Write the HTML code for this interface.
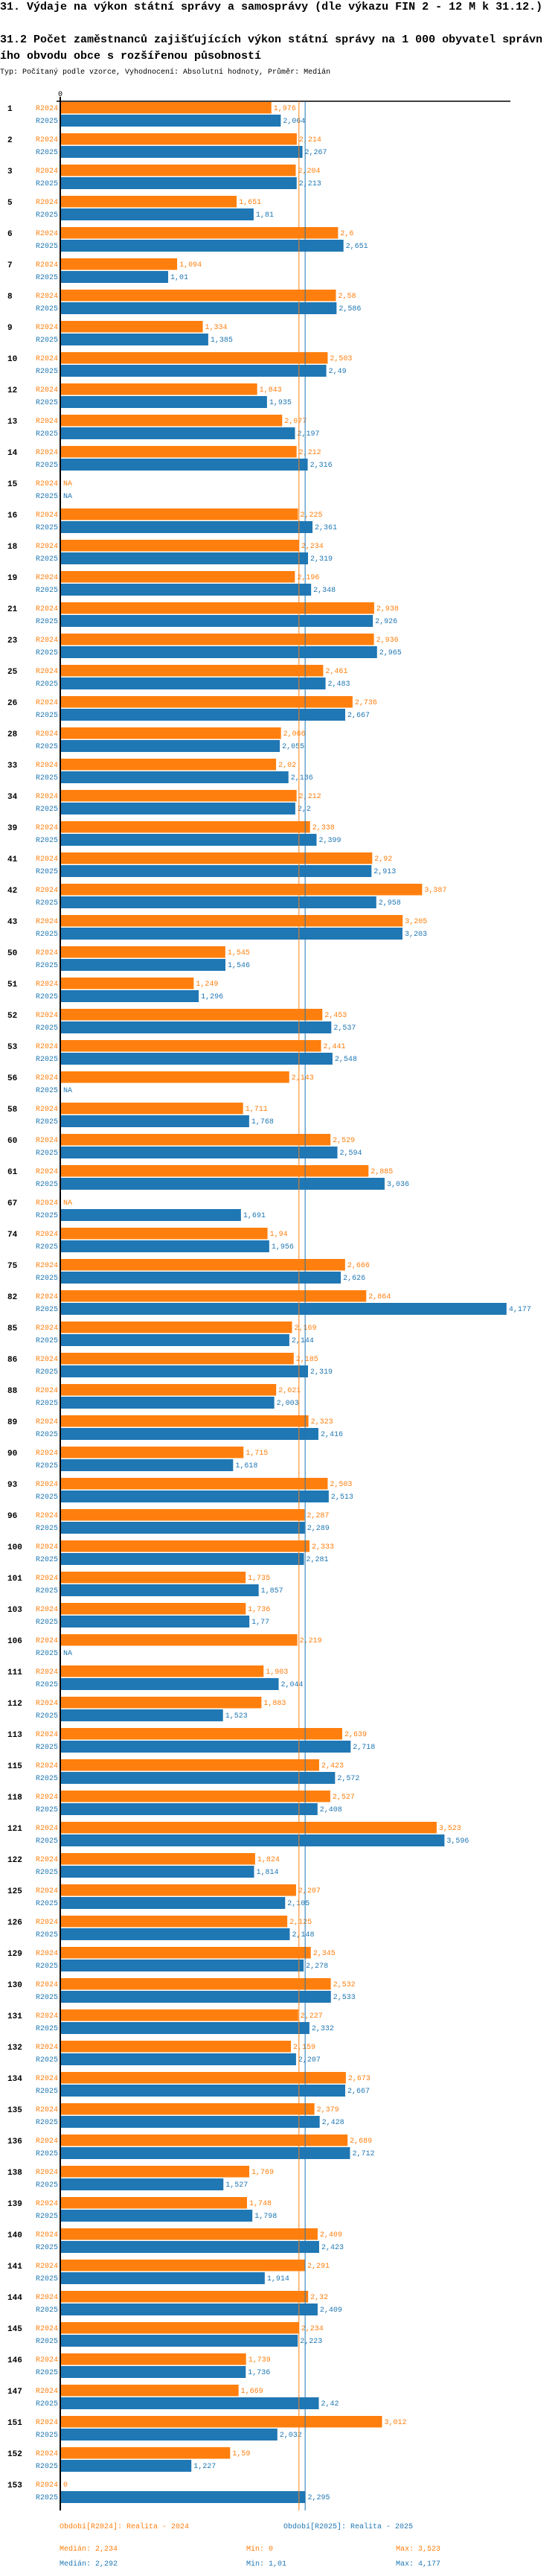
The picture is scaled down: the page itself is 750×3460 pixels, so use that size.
<!DOCTYPE html>
<html><head><meta charset="utf-8"><style>
body{margin:0;background:#fff;width:750px;height:3460px;overflow:hidden}
svg{display:block;font-family:"Liberation Mono",monospace}
</style></head><body>
<svg id="chart" width="750" height="3460" xmlns="http://www.w3.org/2000/svg">
<text x="0" y="13" font-size="15" font-weight="bold" fill="#000">31. Výdaje na výkon státní správy a samosprávy (dle výkazu FIN 2 - 12 M k 31.12.)</text>
<text x="0" y="57" font-size="15" font-weight="bold" fill="#000">31.2 Počet zaměstnanců zajišťujících výkon státní správy na 1 000 obyvatel správn</text>
<text x="0" y="79" font-size="15" font-weight="bold" fill="#000">ího obvodu obce s rozšířenou působností</text>
<text x="0" y="99" font-size="10" fill="#000">Typ: Počítaný podle vzorce, Vyhodnocení: Absolutní hodnoty, Průměr: Medián</text>
<text x="78" y="129" font-size="10" fill="#000">0</text>
<g id="bars"></g>
<line x1="76" y1="136" x2="686" y2="136" stroke="#000" stroke-width="1.5"/>
<line x1="81" y1="130" x2="81" y2="3372" stroke="#000" stroke-width="2"/>
<g id="medians"></g>
<g font-size="10">
<text x="80" y="3396" fill="#ff7f0e">Období[R2024]: Realita - 2024</text>
<text x="381" y="3396" fill="#1f77b4">Období[R2025]: Realita - 2025</text>
<text x="80" y="3426" fill="#ff7f0e">Medián: 2,234</text>
<text x="331" y="3426" fill="#ff7f0e">Min: 0</text>
<text x="532" y="3426" fill="#ff7f0e">Max: 3,523</text>
<text x="80" y="3446" fill="#1f77b4">Medián: 2,292</text>
<text x="331" y="3446" fill="#1f77b4">Min: 1,01</text>
<text x="532" y="3446" fill="#1f77b4">Max: 4,177</text>
</g>
</svg>
<script>
const categories=[1,2,3,5,6,7,8,9,10,12,13,14,15,16,18,19,21,23,25,26,28,33,34,39,41,42,43,50,51,52,53,56,58,60,61,67,74,75,82,85,86,88,89,90,93,96,100,101,103,106,111,112,113,115,118,121,122,125,126,129,130,131,132,134,135,136,138,139,140,141,144,145,146,147,151,152,153];
const values2024=[1.976,2.214,2.204,1.651,2.6,1.094,2.58,1.334,2.503,1.843,2.077,2.212,null,2.225,2.234,2.196,2.938,2.936,2.461,2.736,2.066,2.02,2.212,2.338,2.92,3.387,3.205,1.545,1.249,2.453,2.441,2.143,1.711,2.529,2.885,null,1.94,2.666,2.864,2.169,2.185,2.021,2.323,1.715,2.503,2.287,2.333,1.735,1.736,2.219,1.903,1.883,2.639,2.423,2.527,3.523,1.824,2.207,2.125,2.345,2.532,2.227,2.159,2.673,2.379,2.689,1.769,1.748,2.409,2.291,2.32,2.234,1.739,1.669,3.012,1.59,0];
const values2025=[2.064,2.267,2.213,1.81,2.651,1.01,2.586,1.385,2.49,1.935,2.197,2.316,null,2.361,2.319,2.348,2.926,2.965,2.483,2.667,2.055,2.136,2.2,2.399,2.913,2.958,3.203,1.546,1.296,2.537,2.548,null,1.768,2.594,3.036,1.691,1.956,2.626,4.177,2.144,2.319,2.003,2.416,1.618,2.513,2.289,2.281,1.857,1.77,null,2.044,1.523,2.718,2.572,2.408,3.596,1.814,2.105,2.148,2.278,2.533,2.332,2.207,2.667,2.428,2.712,1.527,1.798,2.423,1.914,2.409,2.223,1.736,2.42,2.032,1.227,2.295];
const medians=[2.234,2.292];
const NS="http://www.w3.org/2000/svg";
const X0=81,SC=143.6,Y0=137,PITCH=42;
const xs=v=>X0+v*SC;
const ys=i=>Y0+i*PITCH;
const fmt=v=>String(v).replace('.',',');
const g=document.getElementById('bars');
function mk(tag,attrs){const e=document.createElementNS(NS,tag);for(const k in attrs)e.setAttribute(k,attrs[k]);return e;}
const series=[{vals:values2024,col:'#ff7f0e',lab:'R2024',off:0,h:15.5},{vals:values2025,col:'#1f77b4',lab:'R2025',off:17,h:16}];
categories.forEach((c,i)=>{
  const y=ys(i);
  const t=mk('text',{x:10,y:y+12,'font-size':11,'font-weight':'bold',fill:'#000'});
  
  
  t.textContent=c;g.appendChild(t);
  series.forEach(s=>{
    const v=s.vals[i];const by=y+s.off;
    const l=mk('text',{x:78,y:by+11,'font-size':10,fill:s.col,'text-anchor':'end'});
    
    
    l.textContent=s.lab;g.appendChild(l);
    let end=X0+1;
    if(v!==null&&v>0){
      const r=mk('rect',{x:X0,y:by,width:xs(v)-X0,height:s.h,fill:s.col});
      
      
      g.appendChild(r);end=xs(v);
    }
    const vt=mk('text',{x:end+3,y:by+11,'font-size':10,fill:s.col});
    
    
    vt.textContent=v===null?'NA':fmt(v);g.appendChild(vt);
  });
});
const mg=document.getElementById('medians');
medians.forEach((m,j)=>{
  const ln=mk('line',{x1:xs(m),x2:xs(m),y1:136,y2:3372,stroke:j?'#1f77b4':'#ff7f0e','stroke-width':1});
  
  
  mg.appendChild(ln);
});
</script>
</body></html>
